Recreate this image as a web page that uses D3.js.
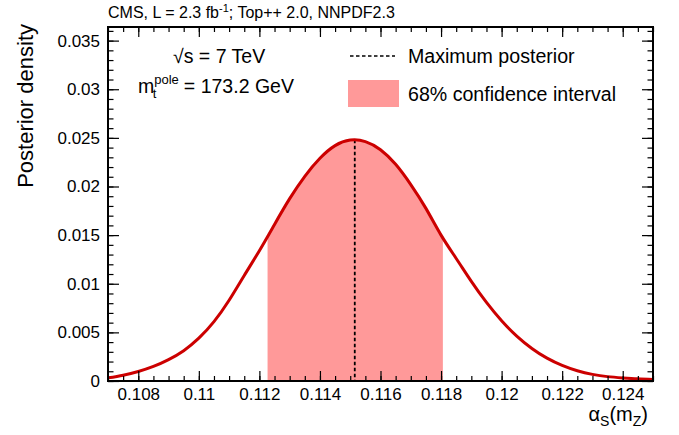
<!DOCTYPE html>
<html><head><meta charset="utf-8">
<script src="https://cdn.jsdelivr.net/npm/d3@7"></script>
<style>
body{margin:0;background:#fff;}
svg{display:block;font-family:"Liberation Sans",Arial,Helvetica,sans-serif;}
</style></head>
<body><svg id="c" width="679" height="435"></svg>
<script>
// ---- data ----
const alphaS = [0.1070,0.1075,0.1080,0.1085,0.1090,0.1095,0.1100,0.1105,0.1110,0.1115,
  0.1120,0.1125,0.1130,0.1135,0.1140,0.1145,0.1150,0.1155,0.1160,0.1165,
  0.1170,0.1175,0.1180,0.1185,0.1190,0.1195,0.1200,0.1205,0.1210,0.1215,
  0.1220,0.1225,0.1230,0.1235,0.1240,0.1245,0.1250];
const density = [0.00032,0.00060,0.00098,0.00150,0.00220,0.00312,0.00440,0.00610,0.00830,0.01085,
  0.01340,0.01610,0.01875,0.02105,0.02290,0.02420,0.02477,0.02462,0.02378,0.02228,
  0.02020,0.01775,0.01500,0.01260,0.01025,0.00808,0.00620,0.00462,0.00335,0.00235,
  0.00160,0.00105,0.00068,0.00045,0.00032,0.00022,0.00015];
const maxPosterior = 0.11515;
const peakDensity = 0.0248;
const interval68 = [0.11227, 0.11806];
const xDomain = [0.107, 0.125];
const yDomain = [0, 0.0364];
const xTicks = [0.108,0.110,0.112,0.114,0.116,0.118,0.120,0.122,0.124];
const xTickLabels = ["0.108","0.11","0.112","0.114","0.116","0.118","0.12","0.122","0.124"];
const yTicks = [0,0.005,0.010,0.015,0.020,0.025,0.030,0.035];
const yTickLabels = ["0","0.005","0.01","0.015","0.02","0.025","0.03","0.035"];
const xMinorStep = 0.0005, yMinorStep = 0.001;

// ---- layout ----
const L = 108, R = 653, T = 27, B = 381;
const svg = d3.select("#c");
const x = d3.scaleLinear().domain(xDomain).range([L, R]);
const y = d3.scaleLinear().domain(yDomain).range([B, T]);
const pts = alphaS.map((a,i)=>[a, density[i]]);

const xMinor = d3.range(Math.round(xDomain[0]/xMinorStep), Math.round(xDomain[1]/xMinorStep)+1).map(k=>+(k*xMinorStep).toFixed(5));
const yMinor = d3.range(0, Math.floor(yDomain[1]/yMinorStep)+1).map(k=>+(k*yMinorStep).toFixed(5));

const defs = svg.append("defs");
defs.append("clipPath").attr("id","ci")
  .append("rect").attr("x", x(interval68[0])).attr("y", T)
  .attr("width", x(interval68[1]) - x(interval68[0])).attr("height", B - T);
defs.append("clipPath").attr("id","frame")
  .append("rect").attr("x", L).attr("y", T).attr("width", R-L).attr("height", B-T);

const area = d3.area().x(d=>x(d[0])).y0(y(0)).y1(d=>y(d[1])).curve(d3.curveNatural);
const line = d3.line().x(d=>x(d[0])).y(d=>y(d[1])).curve(d3.curveNatural);

svg.append("path").datum(pts).attr("d", area).attr("fill","#ff9999").attr("clip-path","url(#ci)");

svg.append("line").attr("x1", x(maxPosterior)).attr("x2", x(maxPosterior))
  .attr("y1", y(peakDensity)).attr("y2", y(0))
  .attr("stroke","#000").attr("stroke-width",1.8).attr("stroke-dasharray","3.5,2.5");

svg.append("path").datum(pts).attr("d", line).attr("fill","none")
  .attr("stroke","#cc0000").attr("stroke-width",3).attr("clip-path","url(#frame)");

// axes
function styleAxis(g){ g.select(".domain").remove(); g.selectAll("line").attr("stroke","#000").attr("stroke-width",1.2); }
const fmtX = d => xTickLabels[xTicks.findIndex(v=>Math.abs(v-d)<1e-9)];
const fmtY = d => yTickLabels[yTicks.findIndex(v=>Math.abs(v-d)<1e-9)];

svg.append("g").attr("transform",`translate(0,${B})`)
  .call(d3.axisBottom(x).tickValues(xMinor).tickSize(-5).tickFormat(""))
  .call(styleAxis);
svg.append("g").attr("transform",`translate(0,${B})`)
  .call(d3.axisBottom(x).tickValues(xTicks).tickSize(-10).tickPadding(7).tickFormat(fmtX))
  .call(styleAxis)
  .selectAll("text").attr("font-size",17).attr("fill","#000").attr("font-family","Liberation Sans, Arial, sans-serif");
svg.append("g").attr("transform",`translate(0,${T})`)
  .call(d3.axisTop(x).tickValues(xMinor).tickSize(-5).tickFormat(""))
  .call(styleAxis);
svg.append("g").attr("transform",`translate(0,${T})`)
  .call(d3.axisTop(x).tickValues(xTicks).tickSize(-10).tickFormat(""))
  .call(styleAxis);

svg.append("g").attr("transform",`translate(${L},0)`)
  .call(d3.axisLeft(y).tickValues(yMinor).tickSize(-5.5).tickFormat(""))
  .call(styleAxis);
svg.append("g").attr("transform",`translate(${L},0)`)
  .call(d3.axisLeft(y).tickValues(yTicks).tickSize(-11).tickPadding(8).tickFormat(fmtY))
  .call(styleAxis)
  .selectAll("text").attr("font-size",17).attr("fill","#000").attr("font-family","Liberation Sans, Arial, sans-serif");
svg.append("g").attr("transform",`translate(${R},0)`)
  .call(d3.axisRight(y).tickValues(yMinor).tickSize(-5.5).tickFormat(""))
  .call(styleAxis);
svg.append("g").attr("transform",`translate(${R},0)`)
  .call(d3.axisRight(y).tickValues(yTicks).tickSize(-11).tickFormat(""))
  .call(styleAxis);

svg.append("rect").attr("x",L).attr("y",T).attr("width",R-L).attr("height",B-T)
  .attr("fill","none").attr("stroke","#000").attr("stroke-width",2);

// titles
svg.append("text").attr("x",L).attr("y",18).attr("font-size",16)
  .html('CMS, L = 2.3 fb<tspan baseline-shift="super" font-size="11">-1</tspan>; Top++ 2.0, NNPDF2.3');

svg.append("text").attr("transform",`translate(33,24) rotate(-90)`).attr("text-anchor","end")
  .attr("font-size",22).text("Posterior density");

svg.append("text").attr("x",R-5).attr("y",421).attr("text-anchor","end").attr("font-size",20)
  .html('α<tspan font-size="14" dy="5">S</tspan><tspan dy="-5">(m</tspan><tspan font-size="14" dy="5">Z</tspan><tspan dy="-5">)</tspan>');

// annotations
svg.append("text").attr("x",173).attr("y",63).attr("font-size",19.5)
  .text("\u221As = 7 TeV");
svg.append("text").attr("x",138).attr("y",93).attr("font-size",19.5)
  .html('m<tspan font-size="13" dy="-9">pole</tspan><tspan font-size="13" dx="-26" dy="14">t</tspan><tspan dx="22" dy="-5"> = 173.2 GeV</tspan>');

// legend
svg.append("line").attr("x1",350).attr("x2",395).attr("y1",56).attr("y2",56)
  .attr("stroke","#000").attr("stroke-width",1.6).attr("stroke-dasharray","3.5,2.5");
svg.append("text").attr("x",408).attr("y",63).attr("font-size",19.6).text("Maximum posterior");
svg.append("rect").attr("x",348).attr("y",80).attr("width",51).attr("height",27).attr("fill","#ff9999");
svg.append("text").attr("x",408).attr("y",101).attr("font-size",19.6).text("68% confidence interval");
</script></body></html>
